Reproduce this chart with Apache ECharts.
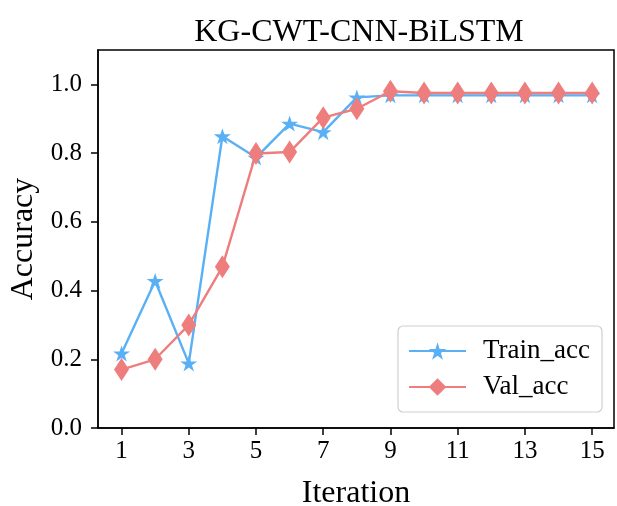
<!DOCTYPE html>
<html>
<head>
<meta charset="utf-8">
<script src="https://cdn.jsdelivr.net/npm/echarts@6/dist/echarts.min.js"></script>
<style>
  html, body { margin: 0; padding: 0; background: #fff; }
  #chart { width: 617px; height: 506px; }
</style>
</head>
<body>
<div id="chart"></div>
<script>
// 迭代次数
var iterations = [1, 2, 3, 4, 5, 6, 7, 8, 9, 10, 11, 12, 13, 14, 15]
var trainAcc = [0.217, 0.428, 0.188, 0.849, 0.787, 0.886, 0.861, 0.962, 0.968, 0.968, 0.968, 0.968, 0.968, 0.968, 0.968]
var valAcc = [0.170, 0.200, 0.300, 0.469, 0.799, 0.803, 0.903, 0.929, 0.980, 0.975, 0.975, 0.975, 0.975, 0.975, 0.975]
var xTicks = [1, 3, 5, 7, 9, 11, 13, 15]
var yTicks = [0, 0.2, 0.4, 0.6, 0.8, 1.0]

var starPath = 'path://M0,-100L22.45,-30.9L95.1,-30.9L36.3,11.8L58.8,80.9L0,38.2L-58.8,80.9L-36.3,11.8L-95.1,-30.9L-22.45,-30.9Z'
var font = '"Liberation Serif", "DejaVu Serif", serif'

function pairs(ys) {
  return iterations.map(function (x, i) { return [x, ys[i]] })
}

var chart = echarts.init(document.getElementById('chart'))
chart.setOption({
  animation: false,
  title: {
    text: 'KG-CWT-CNN-BiLSTM',
    left: 354,
    textAlign: 'center',
    top: 12,
    textStyle: { fontFamily: font, fontSize: 32, fontWeight: 'normal', color: '#000' }
  },
  legend: {
    right: 15,
    bottom: 94,
    orient: 'vertical',
    itemWidth: 57,
    itemHeight: 22,
    itemGap: 8,
    padding: [11, 12, 11, 10],
    borderColor: '#d0d0d0',
    borderWidth: 1.2,
    borderRadius: 5,
    backgroundColor: '#fff',
    textStyle: { fontFamily: font, fontSize: 27, lineHeight: 28, color: '#000', padding: [0, 0, 0, 12] },
    data: ['Train_acc', 'Val_acc']
  },
  grid: {
    left: 98,
    right: 3,
    top: 50,
    bottom: 78,
    outerBoundsMode: 'none',
    show: true,
    borderColor: '#000',
    borderWidth: 1.5
  },
  xAxis: {
    type: 'value',
    min: 0.3,
    max: 15.65,
    name: 'Iteration',
    nameLocation: 'middle',
    nameGap: 50,
    nameTextStyle: { fontFamily: font, fontSize: 32, color: '#000' },
    splitLine: { show: false },
    axisLine: { lineStyle: { color: '#000', width: 1.5 } },
    axisTick: { show: true, length: 7, customValues: xTicks, lineStyle: { color: '#000', width: 1.5 } },
    axisLabel: { customValues: xTicks, fontFamily: font, fontSize: 25, color: '#000', margin: 11 }
  },
  yAxis: {
    type: 'value',
    min: 0,
    max: 1.1,
    name: 'Accuracy',
    nameLocation: 'middle',
    nameGap: 52,
    nameTextStyle: { fontFamily: font, fontSize: 32, color: '#000' },
    splitLine: { show: false },
    axisLine: { show: true, lineStyle: { color: '#000', width: 1.5 } },
    axisTick: { show: true, length: 7, customValues: yTicks, lineStyle: { color: '#000', width: 1.5 } },
    axisLabel: {
      customValues: yTicks,
      fontFamily: font, fontSize: 25, color: '#000', margin: 16,
      formatter: function (v) { return v.toFixed(1) }
    }
  },
  series: [
    {
      name: 'Train_acc',
      type: 'line',
      data: pairs(trainAcc),
      symbol: starPath,
      symbolSize: [17, 16],
      color: '#5ab0f5',
      lineStyle: { width: 2.4 },
      z: 2
    },
    {
      name: 'Val_acc',
      type: 'line',
      data: pairs(valAcc),
      symbol: 'diamond',
      symbolSize: [15, 23],
      color: '#ee7e7e',
      lineStyle: { width: 2.4 },
      z: 3
    }
  ]
})
</script>
</body>
</html>
